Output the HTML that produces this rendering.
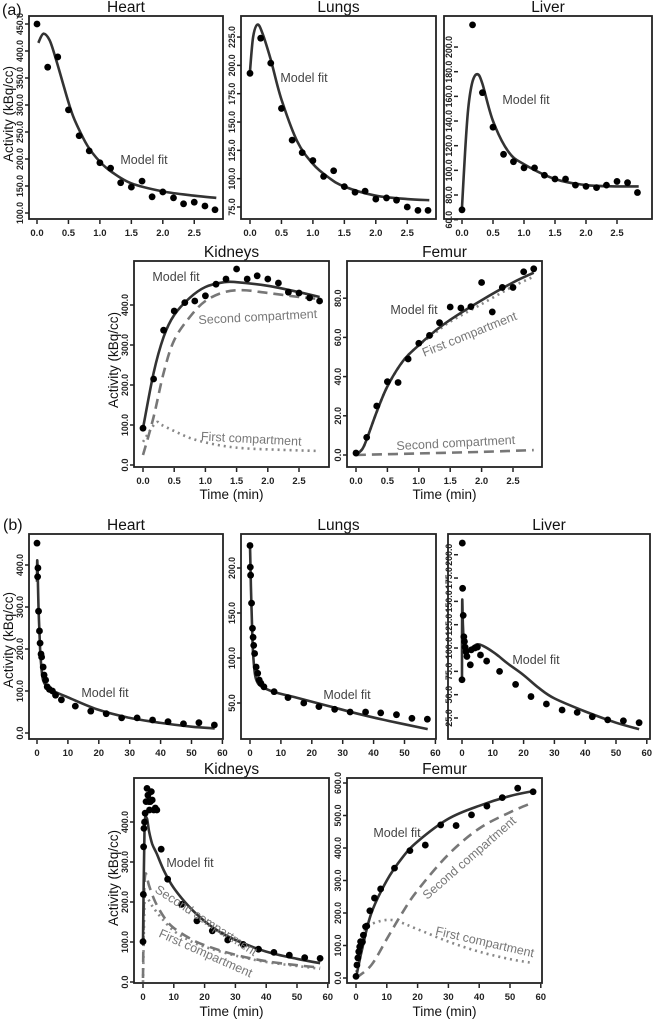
<!DOCTYPE html>
<html><head><meta charset="utf-8"><style>
html,body{margin:0;padding:0;background:#fff;}
svg{display:block;font-family:"Liberation Sans",Arial,sans-serif;}
</style></head><body>
<svg id="fig" width="653" height="1023" viewBox="0 0 653 1023" xmlns="http://www.w3.org/2000/svg">
<text x="2" y="15" font-size="16" fill="#111">(a)</text>
<text x="3" y="530" font-size="16" fill="#111">(b)</text>
</svg>
<script>
// ---------- data (a) ----------
const aTimes = [0,0.17,0.33,0.5,0.67,0.83,1,1.17,1.33,1.5,1.67,1.83,2,2.17,2.33,2.5,2.67,2.83];
const aXTicks = [0,0.5,1,1.5,2,2.5];
const aHeartV = [450,370,389,291,243,215,193,183,156,148,159,130,139,128,117,120,113,106];
const aHeartFitT = [0.02,0.1,0.2,0.3,0.4,0.5,0.6,0.8,1.0,1.2,1.5,2.0,2.5,2.85];
const aHeartFitV = [415,432,420,385,345,305,272,225,195,175,155,140,132,128];
const aHeartYTicks = [100,150,200,250,300,350,400,450];
const aLungsV = [193,224,202,162,134,123,116,102,107,93,88,89,82,83,81,75,72,72];
const aLungsFitT = [0,0.05,0.12,0.2,0.33,0.5,0.75,1.0,1.25,1.5,2.0,2.5,2.85];
const aLungsFitV = [195,225,236,228,205,170,133,113,101,93,85,82,81];
const aLungsYTicks = [75,100,125,150,175,200,225];
const aLiverV = [68,218,163,135,113,107,102,102,96,93,93,88,87,86,88,91,90,82];
const aLiverFitT = [0,0.05,0.1,0.17,0.25,0.33,0.5,0.75,1,1.5,2,2.5,2.85];
const aLiverFitV = [70,115,150,172,178,170,140,115,105,93,88,87,87];
const aLiverYTicks = [60,80,100,120,140,160,180,200];
const aKidneysV = [92,215,337,385,406,410,423,452,465,490,465,473,465,455,432,430,418,410];
const aKidneysFitT = [0,0.17,0.33,0.5,0.75,1,1.3,1.5,2,2.5,2.83];
const aKidneysFitV = [92,230,320,375,418,445,457,457,448,432,420];
const aKidneysSecT = [0,0.17,0.33,0.5,0.75,1,1.3,1.6,2,2.5,2.83];
const aKidneysSecV = [25,120,230,312,370,410,432,437,430,420,415];
const aKidneysFirstT = [0,0.2,0.3,0.5,0.8,1.2,1.6,2.2,2.83];
const aKidneysFirstV = [58,105,100,85,65,50,42,38,35];
const aKidneysYTicks = [0,100,200,300,400];
const aFemurV = [1,9,25,37.4,37,49,57,61,67.5,75.5,75,75.7,88,73,85.5,85.5,93.5,95];
const aFemurFitT = [0,0.1,0.17,0.33,0.5,0.75,1,1.25,1.5,2,2.5,2.83];
const aFemurFitV = [0,3,8,22,35,48,56,63,69,79,88,93];
const aFemurFirstV = [0,3,8,22,35,48,56,62,68,77,86,91];
const aFemurSecT = [0,1,2,2.83];
const aFemurSecV = [0,0.8,1.6,2.5];
const aFemurYTicks = [0,20,40,60,80];
// ---------- data (b) ----------
const bXTicks = [0,10,20,30,40,50,60];
const bHeartT = [0,0.2,0.3,0.5,0.8,1,1.3,1.5,2,2.3,2.8,3.3,4,5,6,7.9,12.4,17.4,22.4,27.4,32.4,37.4,42.4,47.4,52.4,57.4];
const bHeartV = [452,372,393,290,243,214,188,181,157,138,126,110,104,100,90,79,64,52,46,36,36,31,27,22,24.5,19];
const bHeartFitT = [0,0.1,0.5,1,1.5,2,3,5,10,20,30,40,50,57.5];
const bHeartFitV = [360,410,300,200,150,125,112,101,85,55,36,24,15,11];
const bHeartYTicks = [0,100,200,300,400];
const bLungsT = [0,0.1,0.2,0.5,0.8,1.0,1.2,1.5,2.0,2.5,3.0,3.5,4.5,7.8,12.3,17.4,22.3,27.4,32.4,37.4,42.3,47.4,52.4,57.4];
const bLungsV = [225,201,192,161,133,123,114,105,90,83,75.5,72,68,62.6,56,50,46,43,40,40,39,37,33,32];
const bLungsFitT = [0,0.3,0.7,1,1.5,2,3,5,8,15,25,35,45,57.5];
const bLungsFitV = [225,180,130,105,85,76,70,66,62,56,47,38,30,21];
const bLungsYTicks = [50,100,150,200];
const bLiverT = [0,0.1,0.2,0.4,0.6,0.8,1.0,1.3,1.6,2.7,3.0,4.2,5.0,6.0,8.0,12.2,17.4,22.4,27.4,32.5,37.4,42.3,47.3,52.4,57.5];
const bLiverV = [66,212.5,164,135,112,107,101,96,91,82,98,100,101,92.5,86,75,61,48,40,33.6,31,26.4,23,22,20];
const bLiverFitT = [0,0.05,0.3,0.7,1.5,3,5,7,10,12,15,20,25,30,40,50,57.5];
const bLiverFitV = [68,150,125,100,96,100,104,102,96,91,83,71,57,46,32,20,13];
const bLiverYTicks = [25,50,75,100,125,150,175,200];
const bKidneysT = [0,0.1,0.2,0.3,0.5,0.7,1.0,1.3,1.6,1.9,2.1,2.4,2.7,3.0,3.5,4.0,4.5,5.9,8,12.5,17.5,22.5,27.5,32.5,37.5,42.5,47.5,52.5,57.5];
const bKidneysV = [101,219,338,384,400,422,451,484,467,451,430,451,476,455,430,435,430,332,257,194,153,128,105,94,82,74,67,61,59];
const bKidneysFitT = [0,0.5,1.2,2,3,4.5,7,10,15,20,25,30,40,50,57.5];
const bKidneysFitV = [100,380,410,375,345,320,275,235,188,152,125,105,76,58,47];
const bKidneysSecT = [0,0.3,0.8,2,4,7,10,15,20,30,40,50,57.5];
const bKidneysSecV = [10,200,270,240,200,160,135,110,92,68,52,42,36];
const bKidneysFirstT = [0,0.5,1,3,6,10,15,20,30,40,50,57.5];
const bKidneysFirstV = [0,200,215,190,160,128,104,88,66,50,40,33];
const bKidneysYTicks = [0,100,200,300,400];
const bFemurT = [0,0.3,0.6,0.9,1.2,1.5,1.8,2.1,2.4,3.1,3.5,4.5,6,8,12.5,17.5,22.5,27.5,32.5,37.5,42.5,47.5,52.5,57.5];
const bFemurV = [5,40,62,81,96,112,108,111,132,158,160,207,246,274,338,392,409,471,469,502,529,555,584,573];
const bFemurFitT = [0,2,5,10,15,20,30,40,50,57.5];
const bFemurFitV = [0,90,200,300,370,420,490,530,560,575];
const bFemurSecT = [0,5,10,15,20,30,40,50,57.5];
const bFemurSecV = [0,40,120,200,270,380,460,510,540];
const bFemurFirstT = [0,1,3,6,12,20,30,40,50,57.5];
const bFemurFirstV = [0,90,150,170,178,150,112,81,58,46];
const bFemurYTicks = [0,100,200,300,400,500,600];

const NS = "http://www.w3.org/2000/svg";
const svg = document.getElementById('fig');
function mk(tag, attrs, parent) {
  const e = document.createElementNS(NS, tag);
  for (const k in attrs) e.setAttribute(k, attrs[k]);
  (parent || svg).appendChild(e);
  return e;
}
function smoothPath(pts) {
  if (pts.length < 2) return '';
  let d = 'M' + pts[0][0].toFixed(1) + ',' + pts[0][1].toFixed(1);
  for (let i = 0; i < pts.length - 1; i++) {
    const p0 = pts[Math.max(0, i - 1)], p1 = pts[i], p2 = pts[i + 1], p3 = pts[Math.min(pts.length - 1, i + 2)];
    const c1x = p1[0] + (p2[0] - p0[0]) / 6, c1y = p1[1] + (p2[1] - p0[1]) / 6;
    const c2x = p2[0] - (p3[0] - p1[0]) / 6, c2y = p2[1] - (p3[1] - p1[1]) / 6;
    d += ' C' + c1x.toFixed(1) + ',' + c1y.toFixed(1) + ' ' + c2x.toFixed(1) + ',' + c2y.toFixed(1) + ' ' + p2[0].toFixed(1) + ',' + p2[1].toFixed(1);
  }
  return d;
}

function panel(cfg) {
  const g = mk('g', {});
  
  
  const [L, T, R, B] = cfg.box;
  const xs = t => cfg.x0 + t * cfg.xk;
  const ys = v => cfg.yp0 - (v - cfg.yv0) * cfg.yk;
  const title = mk('text', {x: (L + R) / 2, y: T - 4, 'font-size': 15.5, 'text-anchor': 'middle', fill: '#111'}, g);
  title.textContent = cfg.title;
  
  
  const box = mk('rect', {x: L, y: T, width: R - L, height: B - T, fill: 'none', stroke: '#222', 'stroke-width': 1.8}, g);
  
  
  cfg.xticks.forEach(t => {
    const x = xs(t);
    const tk = mk('line', {x1: x, x2: x, y1: B + 1, y2: B + 5, stroke: '#222', 'stroke-width': 1.5}, g);
    
    
    const lb = mk('text', {x: x, y: B + 17, 'font-size': 9.5, 'font-weight': 'bold', 'text-anchor': 'middle', fill: '#222'}, g);
    lb.textContent = cfg.xfmt(t);
    
    
  });
  cfg.yticks.forEach(v => {
    const y = ys(v);
    const tk = mk('line', {x1: cfg.yaxX, x2: cfg.yaxX - 4, y1: y, y2: y, stroke: '#222', 'stroke-width': 1.5}, g);
    
    
    const lx = cfg.yaxX - 6;
    const s = v.toFixed(1);
    const lb = mk('text', {x: lx, y: y, 'font-size': 9.5, 'font-weight': 'bold', 'text-anchor': 'middle', fill: '#222',
      textLength: (s.length * 4.4).toFixed(1), lengthAdjust: 'spacingAndGlyphs',
      transform: 'rotate(-90 ' + lx + ' ' + y + ')'}, g);
    lb.textContent = s;
    
    
  });
  cfg.lines.forEach(ln => {
    const pts = ln.t.map((t, i) => [xs(t), ys(ln.v[i])]);
    const attrs = {d: smoothPath(pts), fill: 'none', stroke: ln.color, 'stroke-width': ln.w};
    if (ln.dash) attrs['stroke-dasharray'] = ln.dash;
    const p = mk('path', attrs, g);
    
    
  });
  cfg.pt.forEach((t, i) => {
    const c = mk('circle', {cx: xs(t), cy: ys(cfg.pv[i]), r: 3.4, fill: '#000'}, g);
    
    
  });
  (cfg.notes || []).forEach(n => {
    const a = {x: n.x, y: n.y, 'font-size': n.fs || 12.5, fill: n.color || '#444', 'text-anchor': 'middle'};
    if (n.rot) a.transform = 'rotate(' + n.rot + ' ' + n.x + ' ' + n.y + ')';
    const tx = mk('text', a, g);
    tx.textContent = n.text;
    
    
  });
  if (cfg.ylab) {
    const [x, y] = cfg.ylab;
    const tx = mk('text', {x: x, y: y, 'font-size': 13.5, 'text-anchor': 'middle', fill: '#111', transform: 'rotate(-90 ' + x + ' ' + y + ')'}, g);
    tx.textContent = 'Activity (kBq/cc)';
    
    
  }
  if (cfg.xlab) {
    const tx = mk('text', {x: (L + R) / 2, y: cfg.xlab, 'font-size': 13.5, 'text-anchor': 'middle', fill: '#111'}, g);
    tx.textContent = 'Time (min)';
    
    
  }
}
const fmtA = t => t.toFixed(1);
const fmtB = t => String(t);
const FIT = '#333', DASH = '#777', DOT = '#888';
function fit(t, v) { return {t: t, v: v, color: FIT, w: 2.6, name: 'model-fit-line'}; }
function sec(t, v) { return {t: t, v: v, color: DASH, w: 2.6, dash: '10 6', name: 'second-compartment-line'}; }
function first(t, v) { return {t: t, v: v, color: DOT, w: 2.6, dash: '2 4', name: 'first-compartment-line'}; }

panel({name: 'a-heart-panel', title: 'Heart', box: [29,16,223,219], x0: 37, xk: 62.9, yv0: 100, yp0: 213, yk: 0.54, yaxX: 29,
  xticks: aXTicks, xfmt: fmtA, yticks: aHeartYTicks, pt: aTimes, pv: aHeartV, lines: [fit(aHeartFitT, aHeartFitV)],
  notes: [{x: 144, y: 164, text: 'Model fit', name: 'model-fit-label'}], ylab: [13, 114]});
panel({name: 'a-lungs-panel', title: 'Lungs', box: [241,16,436,219], x0: 250, xk: 62.9, yv0: 75, yp0: 207, yk: 1.133, yaxX: 241,
  xticks: aXTicks, xfmt: fmtA, yticks: aLungsYTicks, pt: aTimes, pv: aLungsV, lines: [fit(aLungsFitT, aLungsFitV)],
  notes: [{x: 304, y: 82, text: 'Model fit', name: 'model-fit-label'}]});
panel({name: 'a-liver-panel', title: 'Liver', box: [444,16,652,219], x0: 462, xk: 62, yv0: 80, yp0: 195, yk: 1.233, yaxX: 458,
  xticks: aXTicks, xfmt: fmtA, yticks: aLiverYTicks, pt: aTimes, pv: aLiverV, lines: [fit(aLiverFitT, aLiverFitV)],
  notes: [{x: 526, y: 104, text: 'Model fit', name: 'model-fit-label'}]});
panel({name: 'a-kidneys-panel', title: 'Kidneys', box: [134,261,329,467], x0: 143, xk: 62.4, yv0: 0, yp0: 465, yk: 0.4, yaxX: 134,
  xticks: aXTicks, xfmt: fmtA, yticks: aKidneysYTicks, pt: aTimes, pv: aKidneysV,
  lines: [first(aKidneysFirstT, aKidneysFirstV), sec(aKidneysSecT, aKidneysSecV), fit(aKidneysFitT, aKidneysFitV)],
  notes: [{x: 176, y: 281, text: 'Model fit', name: 'model-fit-label'},
          {x: 258, y: 321, text: 'Second compartment', color: '#777', rot: -3, name: 'second-compartment-label'},
          {x: 251, y: 443, text: 'First compartment', color: '#777', rot: 3, name: 'first-compartment-label'}],
  ylab: [118, 360], xlab: 499});
panel({name: 'a-femur-panel', title: 'Femur', box: [347,261,542,467], x0: 356, xk: 62.8, yv0: 0, yp0: 455, yk: 1.96, yaxX: 347,
  xticks: aXTicks, xfmt: fmtA, yticks: aFemurYTicks, pt: aTimes, pv: aFemurV,
  lines: [sec(aFemurSecT, aFemurSecV), first(aFemurFitT, aFemurFirstV), fit(aFemurFitT, aFemurFitV)],
  notes: [{x: 414, y: 314, text: 'Model fit', name: 'model-fit-label'},
          {x: 471, y: 338, text: 'First compartment', color: '#777', rot: -22, name: 'first-compartment-label'},
          {x: 456, y: 447, text: 'Second compartment', color: '#777', rot: -3, name: 'second-compartment-label'}],
  xlab: 499});
panel({name: 'b-heart-panel', title: 'Heart', box: [29,534,223,739], x0: 37, xk: 3.09, yv0: 0, yp0: 733, yk: 0.42, yaxX: 29,
  xticks: bXTicks, xfmt: fmtB, yticks: bHeartYTicks, pt: bHeartT, pv: bHeartV, lines: [fit(bHeartFitT, bHeartFitV)],
  notes: [{x: 105, y: 697, text: 'Model fit', name: 'model-fit-label'}], ylab: [13, 640]});
panel({name: 'b-lungs-panel', title: 'Lungs', box: [241,534,436,739], x0: 250, xk: 3.09, yv0: 50, yp0: 703, yk: 0.9, yaxX: 241,
  xticks: bXTicks, xfmt: fmtB, yticks: bLungsYTicks, pt: bLungsT, pv: bLungsV, lines: [fit(bLungsFitT, bLungsFitV)],
  notes: [{x: 347, y: 699, text: 'Model fit', name: 'model-fit-label'}]});
panel({name: 'b-liver-panel', title: 'Liver', box: [448,534,650,739], x0: 462, xk: 3.08, yv0: 25, yp0: 718, yk: 0.933, yaxX: 458,
  xticks: bXTicks, xfmt: fmtB, yticks: bLiverYTicks, pt: bLiverT, pv: bLiverV, lines: [fit(bLiverFitT, bLiverFitV)],
  notes: [{x: 536, y: 664, text: 'Model fit', name: 'model-fit-label'}]});
panel({name: 'b-kidneys-panel', title: 'Kidneys', box: [134,778,329,983], x0: 143, xk: 3.08, yv0: 0, yp0: 982, yk: 0.4, yaxX: 134,
  xticks: bXTicks, xfmt: fmtB, yticks: bKidneysYTicks, pt: bKidneysT, pv: bKidneysV,
  lines: [first(bKidneysFirstT, bKidneysFirstV), sec(bKidneysSecT, bKidneysSecV), fit(bKidneysFitT, bKidneysFitV)],
  notes: [{x: 190, y: 867, text: 'Model fit', name: 'model-fit-label'},
          {x: 204, y: 924, text: 'Second compartment', color: '#777', rot: 33, name: 'second-compartment-label'},
          {x: 204, y: 957, text: 'First compartment', color: '#777', rot: 24, name: 'first-compartment-label'}],
  ylab: [118, 878], xlab: 1016});
panel({name: 'b-femur-panel', title: 'Femur', box: [347,778,542,983], x0: 356, xk: 3.08, yv0: 0, yp0: 978, yk: 0.325, yaxX: 347,
  xticks: bXTicks, xfmt: fmtB, yticks: bFemurYTicks, pt: bFemurT, pv: bFemurV,
  lines: [first(bFemurFirstT, bFemurFirstV), sec(bFemurSecT, bFemurSecV), fit(bFemurFitT, bFemurFitV)],
  notes: [{x: 397, y: 837, text: 'Model fit', name: 'model-fit-label'},
          {x: 472, y: 861, text: 'Second compartment', color: '#777', rot: -41, name: 'second-compartment-label'},
          {x: 484, y: 946, text: 'First compartment', color: '#777', rot: 13, name: 'first-compartment-label'}],
  xlab: 1016});
</script>
</body></html>
